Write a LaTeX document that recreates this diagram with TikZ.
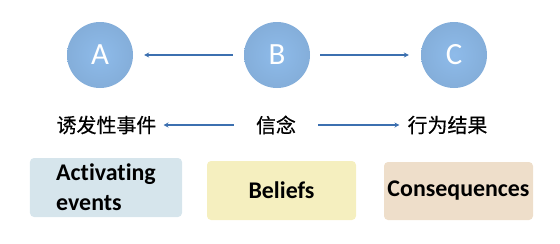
\documentclass[tikz,border=0pt]{standalone}
\usepackage{fontspec}
\setmainfont{Carlito}[Ligatures={NoCommon}]
\newfontfamily\cjk{Noto Sans CJK SC}[FakeBold=0.5]
\usepackage{xcolor}
\usepackage{tikz}
\usetikzlibrary{arrows.meta}

\definecolor{circblue}{HTML}{8EBBEA}
\definecolor{arrowblue}{HTML}{3C70B0}
\definecolor{actfill}{HTML}{D6E5EC}
\definecolor{belfill}{HTML}{F5EFBF}
\definecolor{confill}{HTML}{EEDECA}

\begin{document}
\begin{tikzpicture}[
    x=1bp,y=-1bp,>={Stealth[length=5bp,width=5bp]},
    abc node/.style={circle,minimum size=66bp,inner sep=0pt,
      inner color=circblue,outer color=circblue!93!black,
      text=white,font=\fontsize{31}{31}\selectfont},
    cn node/.style={inner sep=0pt,font=\cjk\fontsize{20}{20}\selectfont},
    en box/.style={rounded corners=4bp,minimum width=150bp,minimum height=59bp,
      inner sep=0pt,font=\bfseries\fontsize{24}{30}\selectfont},
    abc arrow/.style={->,arrowblue,line width=1.2pt}
  ]
    \useasboundingbox (0,0) rectangle (560,243);
    % circles
    \node[abc node] (A) at (100,55) {A};
    \node[abc node] (B) at (277,55) {B};
    \node[abc node] (C) at (454,55) {C};
    \draw[abc arrow,shorten <=11bp,shorten >=11bp] (B) -- (A);
    \draw[abc arrow,shorten <=10bp,shorten >=12bp] (B) -- (C);
    % chinese labels
    \node[cn node] (ev) at (106.5,125) {诱发性事件};
    \node[cn node] (bel) at (276,125) {信念};
    \node[cn node] (con) at (447.5,125) {行为结果};
    \draw[abc arrow,shorten <=22bp,shorten >=7bp] (bel) -- (ev);
    \draw[abc arrow,shorten <=22bp,shorten >=8bp] (bel) -- (con);
    % english boxes
    \node[en box,fill=actfill,minimum width=152bp,align=left] (actbox) at (106,187.5)
      {Activating\\events};
    \node[en box,fill=belfill,minimum width=149bp] (belbox) at (281.5,190.5) {Beliefs};
    \node[en box,fill=confill,minimum width=149bp,minimum height=58bp] (conbox)
      at (458.5,191) {Consequences};
  \end{tikzpicture}
\end{document}
